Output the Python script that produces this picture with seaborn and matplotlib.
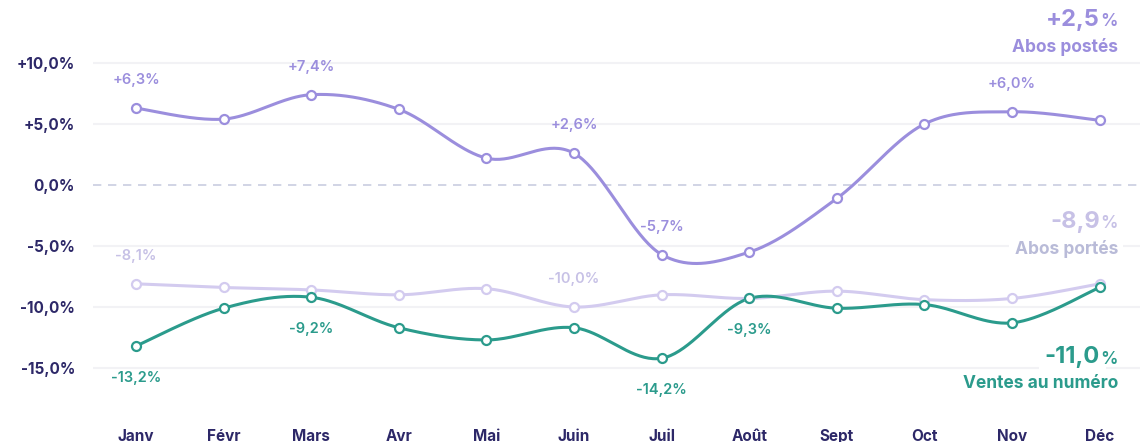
import numpy as np
import pandas as pd
import matplotlib
matplotlib.use("Agg")
import matplotlib.pyplot as plt
import seaborn as sns

# ---- data -------------------------------------------------------------
months = ["Janv", "Févr", "Mars", "Avr", "Mai", "Juin",
          "Juil", "Août", "Sept", "Oct", "Nov", "Déc"]
abos_postes = [6.3, 5.4, 7.4, 6.2, 2.2, 2.6, -5.7, -5.5, -1.1, 5.0, 6.0, 5.3]
abos_portes = [-8.1, -8.4, -8.6, -9.0, -8.5, -10.0, -9.0, -9.3, -8.7, -9.4, -9.3, -8.1]
ventes_numero = [-13.2, -10.1, -9.2, -11.7, -12.7, -11.7, -14.2, -9.3, -10.1, -9.8, -11.3, -8.4]

yticks = [10, 5, 0, -5, -10, -15]

series_names = ["Abos postés", "Abos portés", "Ventes au numéro"]
series_totals = ["+2,5", "-8,9", "-11,0"]
line_colors = ["#9b8edd", "#d3cbef", "#2b9b8c"]
label_colors = ["#9b8edd", "#c7c1e6", "#2b9b8c"]
title_colors = ["#9b8edd", "#b9bbd8", "#2b9b8c"]

# labelled points: (series index, month index, position)
point_labels = [
    (0, 0, "above"), (0, 2, "above"), (0, 5, "above"), (0, 6, "above"), (0, 10, "above"),
    (1, 0, "above"), (1, 5, "above"),
    (2, 0, "below"), (2, 2, "below"), (2, 6, "below"), (2, 7, "below"),
]

# ---- helpers ----------------------------------------------------------
def fr_pct(v):
    return f"{v:+.1f}".replace(".", ",") + "%"


def catmull_rom(x, y, steps=40):
    """Smooth curve passing through every point (uniform Catmull-Rom)."""
    x = np.asarray(x, float)
    y = np.asarray(y, float)
    px = np.concatenate([[x[0]], x, [x[-1]]])
    py = np.concatenate([[y[0]], y, [y[-1]]])
    xs, ys = [], []
    t = np.linspace(0, 1, steps, endpoint=False)
    for i in range(1, len(px) - 2):
        p0, p1, p2, p3 = py[i - 1], py[i], py[i + 1], py[i + 2]
        q0, q1, q2, q3 = px[i - 1], px[i], px[i + 1], px[i + 2]
        t2, t3 = t * t, t * t * t
        ys.append(0.5 * (2 * p1 + (-p0 + p2) * t + (2 * p0 - 5 * p1 + 4 * p2 - p3) * t2
                         + (-p0 + 3 * p1 - 3 * p2 + p3) * t3))
        xs.append(0.5 * (2 * q1 + (-q0 + q2) * t + (2 * q0 - 5 * q1 + 4 * q2 - q3) * t2
                         + (-q0 + 3 * q1 - 3 * q2 + q3) * t3))
    xs.append([x[-1]])
    ys.append([y[-1]])
    return np.concatenate(xs), np.concatenate(ys)


# ---- figure -----------------------------------------------------------
sns.set_theme(style="white")
plt.rcParams["font.family"] = ["Inter", "DejaVu Sans"]

fig = plt.figure(figsize=(11.4, 4.42), dpi=100)
ax = fig.add_axes([0.0816, 0.0984, 0.9184, 0.8088])

navy = "#2d2868"
grid_color = "#f2f2f5"

all_series = [abos_postes, abos_portes, ventes_numero]
xi = np.arange(len(months))

# grid lines
for v in yticks:
    if v == 0:
        ax.axhline(0, color="#c9cde0", lw=1.2, ls=(0, (5, 4)), zorder=1)
    else:
        ax.axhline(v, color=grid_color, lw=1.5, zorder=0)

for vals, col in zip(all_series, line_colors):
    sx, sy = catmull_rom(xi, vals)
    curve = pd.DataFrame({"x": sx, "y": sy})
    sns.lineplot(data=curve, x="x", y="y", ax=ax, color=col, lw=2.2,
                 sort=False, estimator=None, zorder=3)
    pts = pd.DataFrame({"x": xi, "y": vals})
    sns.scatterplot(data=pts, x="x", y="y", ax=ax, s=42, color="white",
                    edgecolor=col, linewidth=1.6, zorder=4)

for si, mi, pos in point_labels:
    v = all_series[si][mi]
    off = 20 if pos == "above" else -23
    ax.annotate(fr_pct(v), (mi, v), xytext=(0, off), textcoords="offset points",
                ha="center", va="center", fontsize=10.5, fontweight="semibold",
                color=label_colors[si], zorder=5)

ax.set_xlim(-0.49, 11.46)
ax.set_ylim(-17.5, 11.8)
ax.set_xticks(xi)
ax.set_xticklabels(months)
ax.set_yticks(yticks)
ax.set_yticklabels([fr_pct(v) if v != 0 else "0,0%" for v in yticks])
ax.tick_params(axis="x", length=0, pad=22, labelsize=11, labelcolor=navy)
ax.tick_params(axis="y", length=0, pad=13, labelsize=11, labelcolor=navy)
for lab in ax.get_xticklabels() + ax.get_yticklabels():
    lab.set_fontweight("bold")
ax.set_xlabel("")
ax.set_ylabel("")
for sp in ax.spines.values():
    sp.set_visible(False)

# series totals on the right
title_y = [(20, 47), (222, 249), (357, 384)]
W, H = 1140, 442
for name, total, c_big, c_name, (yb, yn) in zip(series_names, series_totals,
                                                 label_colors, title_colors, title_y):
    fig.text(1100 / W, 1 - yb / H, total, ha="right", va="center",
             fontsize=17, fontweight="bold", color=c_big, zorder=6,
             bbox=dict(boxstyle="square,pad=0.25", fc="white", ec="none"))
    fig.text(1100 / W, 1 - (yb + 2) / H, "%", ha="left", va="center",
             fontsize=12.5, fontweight="semibold", color=c_big, zorder=6)
    fig.text(1118 / W, 1 - yn / H, name, ha="right", va="center",
             fontsize=12.5, fontweight="bold", color=c_name, zorder=6,
             bbox=dict(boxstyle="square,pad=0.3", fc="white", ec="none"))

fig.savefig("out.png", dpi=100, facecolor="white")
